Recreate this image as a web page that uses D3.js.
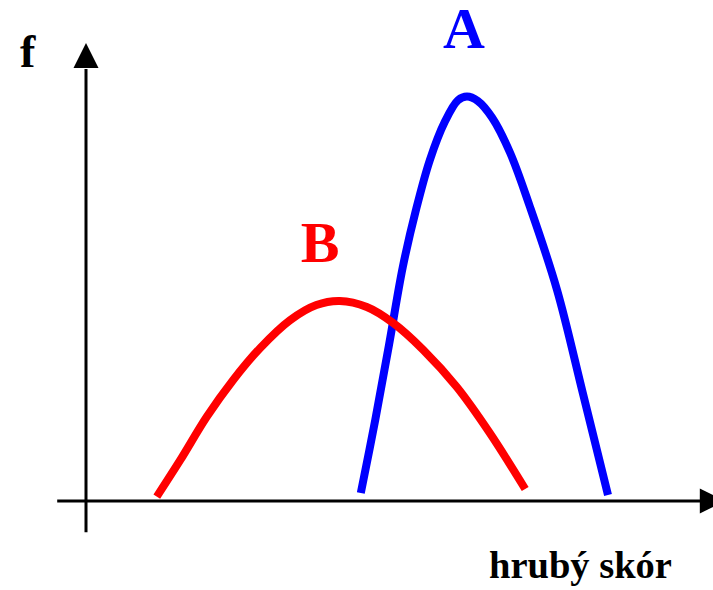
<!DOCTYPE html>
<html>
<head>
<meta charset="utf-8">
<script src="https://cdn.jsdelivr.net/npm/d3@7"></script>
<style>
  body { margin: 0; background: #fff; }
  text { font-family: "Liberation Serif", "DejaVu Serif", serif; font-weight: bold; }
</style>
</head>
<body>
<svg id="chart" width="713" height="590"></svg>
<script>
// curve A (blue), score vs frequency
var scoreA = [45.8, 48.2, 50.5, 52.8, 55, 57.3, 59.8, 62, 63.5, 65.3, 67.7, 70.7, 74, 78.5, 82.8, 87];
var freqA  = [2, 20.2, 39, 58.5, 72.8, 85.2, 94.8, 100.2, 101.1, 100, 95.8, 87, 73.5, 52.8, 27, 1.5];

// curve B (red)
var scoreB = [11.8, 15.7, 20.1, 24.5, 29, 34, 38.4, 42.3, 46.8, 51.2, 56.2, 61.8, 67.3, 73.2];
var freqB  = [1.1, 10.2, 21, 30.2, 38.2, 45.2, 49, 50, 48.5, 44.5, 37.8, 28.5, 17, 3];

var seriesNames = ["A", "B"];
var seriesColors = ["#0000ff", "#ff0000"];
var xLabel = "hrubý skór";
var yLabel = "f";

var svg = d3.select("#chart");

var xScale = d3.scaleLinear().domain([0, 100]).range([86, 686]);
var yScale = d3.scaleLinear().domain([0, 100]).range([501, 101]);

// axes (no ticks, just arrows)
var x0 = xScale(0), y0 = yScale(0);

svg.append("line")
    .attr("x1", xScale(-4.8)).attr("y1", y0)
    .attr("x2", xScale(102.5)).attr("y2", y0)
    .attr("stroke", "#000").attr("stroke-width", 3);

svg.append("line")
    .attr("x1", x0).attr("y1", yScale(-7.8))
    .attr("x2", x0).attr("y2", yScale(108))
    .attr("stroke", "#000").attr("stroke-width", 3);

// arrow heads
var xTip = xScale(106.5), xBase = xScale(102.3);
svg.append("path")
    .attr("d", "M" + xTip + "," + y0 + "L" + xBase + "," + (y0 - 12.5) + "L" + xBase + "," + (y0 + 12.5) + "Z")
    .attr("fill", "#000");

var yTip = yScale(114.5), yBase = yScale(108.25);
svg.append("path")
    .attr("d", "M" + x0 + "," + yTip + "L" + (x0 - 12.5) + "," + yBase + "L" + (x0 + 12.5) + "," + yBase + "Z")
    .attr("fill", "#000");

// curves
var line = d3.line()
    .x(function (d) { return xScale(d.score); })
    .y(function (d) { return yScale(d.freq); })
    .curve(d3.curveCatmullRom);

var arrA = [], arrB = [];
for (var i = 0; i < scoreA.length; i++) arrA.push({score: scoreA[i], freq: freqA[i]});
for (var j = 0; j < scoreB.length; j++) arrB.push({score: scoreB[j], freq: freqB[j]});
var arr = [arrA, arrB];

for (var index = 0; index < 2; index++) {
    svg.append("path")
        .datum(arr[index])
        .attr("d", line)
        .attr("fill", "none")
        .attr("stroke", seriesColors[index])
        .attr("stroke-width", 8);
}

// series labels
svg.append("text")
    .attr("x", 464).attr("y", 48)
    .attr("text-anchor", "middle")
    .style("font-size", "58px")
    .attr("fill", seriesColors[0])
    .text(seriesNames[0]);

svg.append("text")
    .attr("x", 320).attr("y", 262)
    .attr("text-anchor", "middle")
    .style("font-size", "58px")
    .attr("fill", seriesColors[1])
    .text(seriesNames[1]);

// axis labels
svg.append("text")
    .attr("x", 20).attr("y", 67)
    .style("font-size", "46px")
    .text(yLabel);

svg.append("text")
    .attr("x", 489).attr("y", 578)
    .style("font-size", "38.5px")
    .text(xLabel);
</script>
</body>
</html>
